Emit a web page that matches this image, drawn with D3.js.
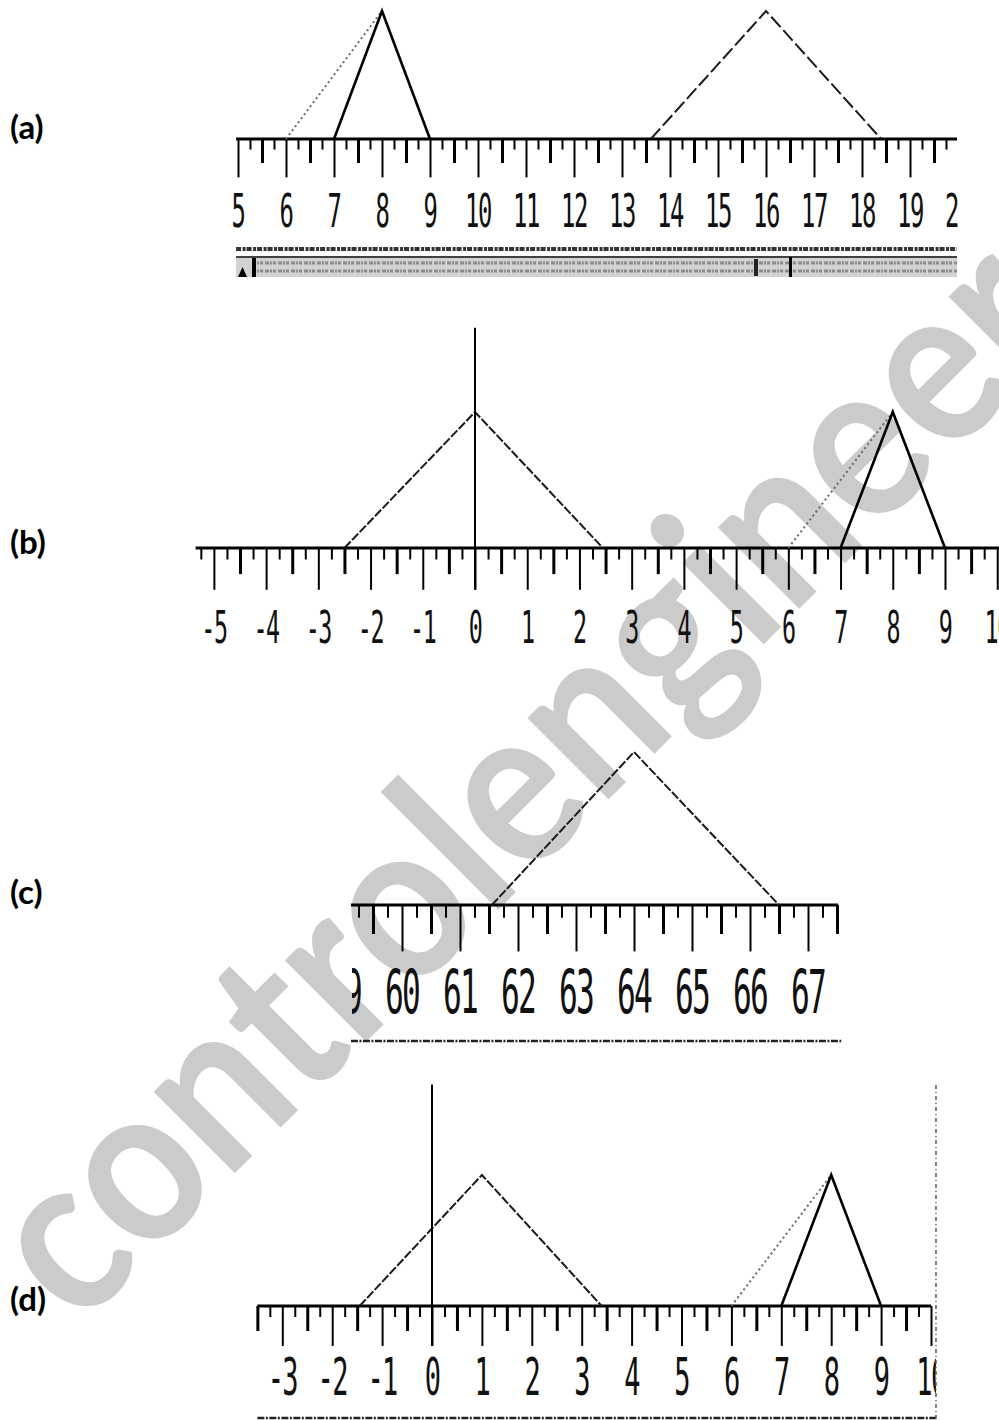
<!DOCTYPE html>
<html>
<head>
<meta charset="utf-8">
<script src="https://cdn.jsdelivr.net/npm/d3@7/dist/d3.min.js"></script>
<style>
  body { margin: 0; background: #fff; }
  svg { display: block; }
</style>
</head>
<body>
<svg id="chart" width="999" height="1420"></svg>
<script>
// panel names
const panelNames = ["(a)", "(b)", "(c)", "(d)"];

// ruler labels
const labelsA = [5, 6, 7, 8, 9, 10, 11, 12, 13, 14, 15, 16, 17, 18, 19, 20];
const labelsB = [-5, -4, -3, -2, -1, 0, 1, 2, 3, 4, 5, 6, 7, 8, 9, 10];
const labelsC = [59, 60, 61, 62, 63, 64, 65, 66, 67];
const labelsD = [-3, -2, -1, 0, 1, 2, 3, 4, 5, 6, 7, 8, 9, 10];

// triangles: [left foot, peak, right foot], dotted edges: [foot, peak]
const solidA = [7, 8, 9];
const dottedA = [6, 8];
const dashedA = [13.6, 16, 18.4];

const dashedB = [-2.5, 0, 2.45];
const solidB = [7, 8, 9];
const dottedB = [6, 8];
const spikeB = [0, 1.62]; // position, height

const dashedC = [61.55, 64, 66.5];

const dashedD = [-1.45, 1, 3.4];
const solidD = [7, 8, 9];
const dottedD = [6, 8];
const spikeD = [0, 1.69];
const markerD = 10.1;

const watermark = "controlengineers";

const svg = d3.select("#chart");

// watermark goes underneath everything
svg.append("text")
  .attr("transform", "translate(78,1330) rotate(-45) scale(1,1.12)")
  .attr("font-family", "Lato")
  .attr("font-weight", "bold")
  .attr("font-size", 200)
  .attr("fill", "#cbcbcb")
  .text(watermark);

const panels = [
  { name: panelNames[0], nameY: 139, domain: [5, 20], range: [238, 958], axisY: 139, peak: 128,
    ruler: [4.96, 19.98], labels: labelsA, labelBase: 227, labelSize: 46, clip: [0, 959],
    solid: [solidA], dashed: [dashedA], dotted: [dottedA], spikes: [] },
  { name: panelNames[1], nameY: 554, domain: [0, 9], range: [475, 945], axisY: 548, peak: 136,
    ruler: [-5.35, 10.6], labels: labelsB, labelBase: 643, labelSize: 45, clip: [0, 999],
    solid: [solidB], dashed: [dashedB], dotted: [dottedB], spikes: [spikeB] },
  { name: panelNames[2], nameY: 904, domain: [60, 67], range: [402, 808], axisY: 905, peak: 153,
    ruler: [59.12, 67.52], labels: labelsC, labelBase: 1013, labelSize: 60, clip: [352, 999],
    solid: [], dashed: [dashedC], dotted: [], spikes: [] },
  { name: panelNames[3], nameY: 1311, domain: [0, 10], range: [432, 931], axisY: 1306, peak: 131,
    ruler: [-3.5, 10], labels: labelsD, labelBase: 1395, labelSize: 52, clip: [0, 936],
    solid: [solidD], dashed: [dashedD], dotted: [dottedD], spikes: [spikeD] }
];

panels.forEach((p, i) => {
  const x = d3.scaleLinear().domain(p.domain).range(p.range);
  const unit = x(1) - x(0);
  const y = d3.scaleLinear().domain([0, 1]).range([p.axisY, p.axisY - p.peak]);
  const g = svg.append("g").attr("class", "panel");

  // panel name
  svg.append("text")
    .attr("x", 10)
    .attr("y", p.nameY)
    .attr("font-family", "Lato")
    .attr("font-weight", "bold")
    .attr("font-size", 33)
    .attr("fill", "#000")
    .text(p.name);

  // ruler ticks: quarter, half, whole
  const r0 = p.ruler[0], r1 = p.ruler[1];
  const all = d3.range(Math.ceil(r0 * 4), Math.floor(r1 * 4) + 1).map((k) => k / 4);
  const whole = all.filter((v) => v % 1 === 0);
  const half = all.filter((v) => Math.abs(v % 1) === 0.5);
  const quarter = all.filter((v) => v % 0.5 !== 0);

  const levels = [
    { vals: quarter, len: 0.22 * unit, w: 2 },
    { vals: half, len: 0.5 * unit, w: 3 },
    { vals: whole, len: 0.8 * unit, w: 2 }
  ];
  levels.forEach((lv) => {
    const ax = g.append("g")
      .attr("transform", "translate(0," + p.axisY + ")")
      .call(d3.axisBottom(x).tickValues(lv.vals).tickSize(lv.len).tickSizeOuter(0).tickFormat(""));
    ax.select(".domain").remove();
    ax.selectAll(".tick line").attr("stroke", "#000").attr("stroke-width", lv.w);
  });

  // ruler line
  g.append("line")
    .attr("x1", x(r0)).attr("x2", Math.min(x(r1), 999))
    .attr("y1", p.axisY).attr("y2", p.axisY)
    .attr("stroke", "#000").attr("stroke-width", 3);

  // labels
  const clipId = "clip" + i;
  svg.append("clipPath").attr("id", clipId)
    .append("rect")
    .attr("x", p.clip[0]).attr("y", p.axisY)
    .attr("width", p.clip[1] - p.clip[0]).attr("height", 120);
  g.append("g").attr("clip-path", "url(#" + clipId + ")")
    .selectAll("text")
    .data(p.labels)
    .join("text")
    .attr("transform", (d) => "translate(" + x(d) + "," + p.labelBase + ") scale(0.52,1)")
    .attr("text-anchor", "middle")
    .attr("font-family", "DejaVu Sans Mono")
    .attr("font-size", p.labelSize)
    .attr("letter-spacing", "-0.06em")
    .attr("fill", "#111")
    .text((d) => d);

  const tri = d3.line().x((d) => x(d[0])).y((d) => y(d[1]));

  // dotted edges
  p.dotted.forEach((d) => {
    g.append("path")
      .attr("d", tri([[d[0], 0], [d[1], 1]]))
      .attr("fill", "none").attr("stroke", "#6a6a6a")
      .attr("stroke-width", 2).attr("stroke-dasharray", "2,3");
  });

  // dashed triangles
  p.dashed.forEach((d) => {
    g.append("path")
      .attr("d", tri([[d[0], 0], [d[1], 1], [d[2], 0]]))
      .attr("fill", "none").attr("stroke", "#1a1a1a")
      .attr("stroke-width", 2)
      .attr("stroke-dasharray", i === 0 ? "14,4" : "9,2");
  });

  // solid triangles
  p.solid.forEach((d) => {
    g.append("path")
      .attr("d", tri([[d[0], 0], [d[1], 1], [d[2], 0]]))
      .attr("fill", "none").attr("stroke", "#000")
      .attr("stroke-width", 2.6).attr("stroke-linejoin", "miter");
  });

  // spikes
  p.spikes.forEach((s) => {
    g.append("line")
      .attr("x1", x(s[0])).attr("x2", x(s[0]))
      .attr("y1", y(s[1])).attr("y2", p.axisY + 0.8 * unit)
      .attr("stroke", "#000").attr("stroke-width", 2);
  });

  // strips under the rulers
  if (i === 0) {
    const s = g.append("g");
    s.append("rect").attr("x", x(r0)).attr("y", 258)
      .attr("width", x(r1) - x(r0)).attr("height", 19).attr("fill", "#d2d2d2");
    [263, 271].forEach((yy) => {
      s.append("line").attr("x1", x(r0) + 16).attr("x2", x(r1))
        .attr("y1", yy).attr("y2", yy)
        .attr("stroke", "#8a8a8a").attr("stroke-width", 3)
        .attr("stroke-dasharray", "4,1,2,1,3,2");
    });
    s.append("line").attr("x1", x(r0)).attr("x2", x(r1))
      .attr("y1", 249).attr("y2", 249)
      .attr("stroke", "#333").attr("stroke-width", 4).attr("stroke-dasharray", "5,1.5,3,1");
    s.append("line").attr("x1", x(r0)).attr("x2", x(r1))
      .attr("y1", 257).attr("y2", 257)
      .attr("stroke", "#000").attr("stroke-width", 1.5);
    s.append("path").attr("d", "M238,277L247,277L242.5,267Z").attr("fill", "#000");
    s.append("rect").attr("x", 252).attr("y", 258).attr("width", 4).attr("height", 19).attr("fill", "#000");
    s.append("rect").attr("x", 754).attr("y", 259).attr("width", 4).attr("height", 17).attr("fill", "#222");
    s.append("rect").attr("x", 789).attr("y", 257).attr("width", 3).attr("height", 20).attr("fill", "#000");
  }
  if (i === 2) {
    g.append("line").attr("x1", x(r0)).attr("x2", x(r1) + 3)
      .attr("y1", 1041).attr("y2", 1041)
      .attr("stroke", "#222").attr("stroke-width", 2.5).attr("stroke-dasharray", "7,1.5,2,1.5");
  }
  if (i === 3) {
    g.append("line").attr("x1", x(r0)).attr("x2", x(markerD))
      .attr("y1", 1418).attr("y2", 1418)
      .attr("stroke", "#222").attr("stroke-width", 2.5).attr("stroke-dasharray", "7,1.5,2,1.5");
    g.append("line").attr("x1", x(markerD)).attr("x2", x(markerD))
      .attr("y1", 1085).attr("y2", 1420)
      .attr("stroke", "#555").attr("stroke-width", 1.5).attr("stroke-dasharray", "4,3,1,3");
  }
});
</script>
</body>
</html>
